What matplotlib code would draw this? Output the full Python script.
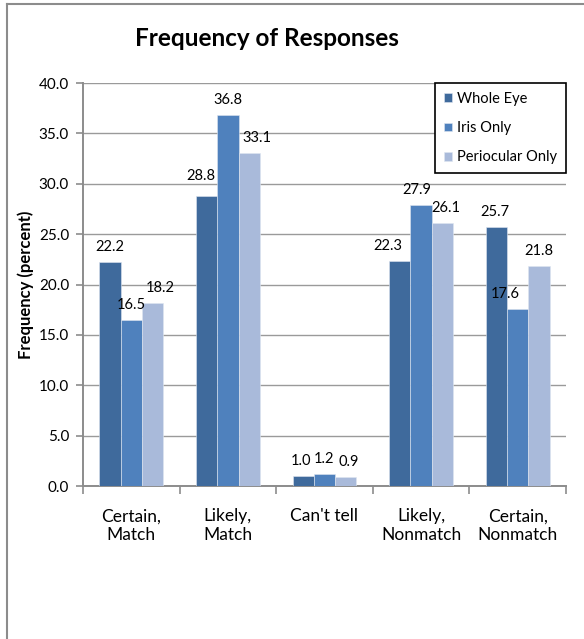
import numpy as np
import matplotlib
matplotlib.use("Agg")
import matplotlib.pyplot as plt
from matplotlib.lines import Line2D

plt.rcParams['font.family'] = ['Lato', 'DejaVu Sans']

# response categories and percentages per viewing condition
categories = ["Certain,\nMatch", "Likely,\nMatch", "Can't tell", "Likely,\nNonmatch", "Certain,\nNonmatch"]
series_names = ["Whole Eye", "Iris Only", "Periocular Only"]
whole_eye = [22.2, 28.8, 1.0, 22.3, 25.7]
iris_only = [16.5, 36.8, 1.2, 27.9, 17.6]
periocular_only = [18.2, 33.1, 0.9, 26.1, 21.8]
yticks = [0, 5, 10, 15, 20, 25, 30, 35, 40]

colors = ["#3F6A9C", "#4F81BD", "#A9BADA"]

# small label nudges (pixels) so neighbouring value labels don't collide
nudge_x = [[0, -6, -2, -12, -2],
           [0, 0, 0, -4, -12],
           [8, 8, 3, 4, 0]]
nudge_y = [[0, 5, 0, 0, 0],
           [0, 0, 0, 0, 0],
           [0, 0, 0, 0, 0]]

fig = plt.figure(figsize=(5.84, 6.39), dpi=100)
ax = fig.add_axes([0.1421, 0.2394, 0.827, 0.6307])

x = np.arange(len(categories))
w = 0.22
for i, (vals, name) in enumerate(zip([whole_eye, iris_only, periocular_only], series_names)):
    pos = x + (i - 1) * w
    ax.bar(pos, vals, width=w, color=colors[i], label=name, zorder=3,
           edgecolor="#dfe6f0", linewidth=0.4)
    for j, (px, v) in enumerate(zip(pos, vals)):
        ax.annotate(f"{v:.1f}", (px, v), xytext=(nudge_x[i][j], 8 + nudge_y[i][j]),
                    textcoords="offset pixels", ha="center", va="bottom",
                    fontsize=10.5, color="black", zorder=4)

ax.set_xlim(-0.5, len(categories) - 0.5)
ax.set_ylim(0, 40)
ax.set_yticks(yticks)
ax.set_yticklabels([f"{t:.1f}" for t in yticks], fontsize=11)
ax.yaxis.grid(True, color="#9a9a9a", linewidth=1.0, zorder=0)
ax.set_axisbelow(True)

# category labels centred, tick marks on the boundaries
ax.set_xticks(x)
ax.set_xticklabels(categories, fontsize=12.5, linespacing=1.25)
ax.tick_params(axis="x", length=0, pad=16)
ax.set_xticks(np.arange(len(categories) + 1) - 0.5, minor=True)
ax.tick_params(axis="x", which="minor", length=6, color="#8c8c8c", width=1.2)
ax.tick_params(axis="y", length=5, color="#8c8c8c", width=1.2, pad=5)

for s in ["top", "right"]:
    ax.spines[s].set_visible(False)
for s in ["left", "bottom"]:
    ax.spines[s].set_color("#8c8c8c")
    ax.spines[s].set_linewidth(1.4)

ax.set_ylabel("Frequency (percent)", fontsize=12, fontweight="bold")
ax.yaxis.set_label_coords(-0.102, 0.5)
fig.text(0.457, 0.939, "Frequency of Responses", ha="center", va="center",
         fontsize=17.5, fontweight="bold")

leg = ax.legend(loc="upper right", bbox_to_anchor=(1.0, 1.0), borderaxespad=0,
                fancybox=False, edgecolor="black", framealpha=1, fontsize=10.5,
                handlelength=0.55, handleheight=0.55, handletextpad=0.35,
                labelspacing=1.05, borderpad=0.6)
leg.get_frame().set_linewidth(1.2)

# chart frame (top and left edge)
fig.add_artist(Line2D([0.012, 1.0], [0.993, 0.993], transform=fig.transFigure,
                      color="#8c8c8c", linewidth=1.5))
fig.add_artist(Line2D([0.012, 0.012], [0.0, 0.993], transform=fig.transFigure,
                      color="#8c8c8c", linewidth=1.5))

fig.savefig("out.png", dpi=100, facecolor="white")
